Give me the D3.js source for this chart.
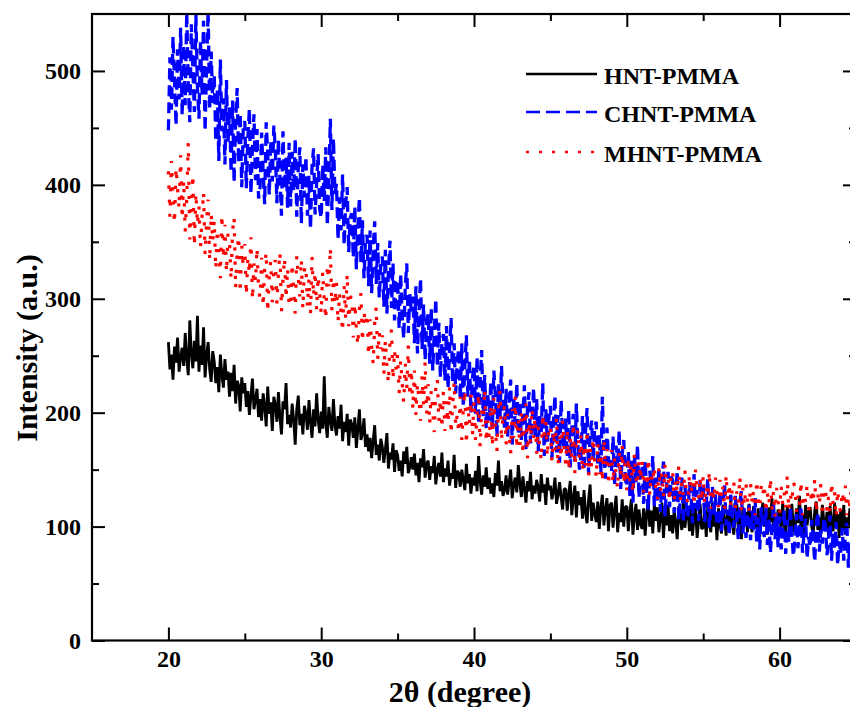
<!DOCTYPE html>
<html>
<head>
<meta charset="utf-8">
<script src="https://cdn.jsdelivr.net/npm/d3@7"></script>
<style>
  html, body { margin: 0; padding: 0; background: #fff; overflow: hidden; }
  svg { display: block; }
  text { font-family: "Liberation Serif", "Times New Roman", serif; font-weight: bold; fill: #000; }
</style>
</head>
<body>
<svg id="chart" width="850" height="707"></svg>
<script>
// XRD patterns, intensity sampled every 0.1 degree from 20 to 65 (2θ)
const twoThetaStart = 20, twoThetaStep = 0.1;

const seriesNames = ["HNT-PMMA", "CHNT-PMMA", "MHNT-PMMA"];

const hntPmma = [
262,238,251,229,258,244,266,236,249,257,
241,270,247,233,281,252,239,263,245,285,
236,259,242,275,231,250,262,238,227,254,
245,226,240,218,251,233,222,247,229,236,
214,235,219,242,208,228,224,201,231,217,
226,205,219,198,215,230,203,211,221,196,
212,193,217,206,188,223,199,209,184,214,
207,192,218,196,181,210,203,226,190,198,
187,208,194,172,203,215,189,199,181,206,
199,185,211,192,178,203,188,217,194,182,
201,186,232,190,178,205,193,184,212,189,
180,197,186,207,175,192,183,199,171,194,
190,178,196,169,186,203,176,182,195,170,
181,166,178,160,175,189,163,172,158,177,
170,156,168,182,151,165,159,173,148,167,
163,149,158,144,166,155,170,147,152,161,
150,164,145,156,139,160,152,168,143,155,
158,141,153,147,162,137,150,156,144,165,
139,151,144,158,136,147,142,163,134,149,
147,135,150,141,132,155,138,146,129,143,
136,149,131,162,140,128,145,135,152,133,
143,129,138,126,147,136,158,131,140,127,
132,145,128,139,150,125,137,143,130,154,
138,126,144,133,121,140,131,148,124,136,
129,141,134,122,146,130,137,119,143,132,
136,124,131,143,120,128,139,126,115,133,
133,114,129,140,110,125,136,108,131,119,
126,107,132,112,103,124,137,105,121,111,
104,122,98,117,128,101,115,125,96,119,
121,99,114,127,95,112,104,124,100,117,
118,96,113,124,93,109,120,97,115,102,
98,116,92,111,123,100,114,94,119,105,
117,95,108,121,90,112,101,119,96,110,
94,114,103,89,118,107,97,122,99,111,
115,96,119,92,108,117,90,104,120,98,
99,113,91,118,103,95,121,100,112,88,
116,101,94,119,106,92,114,97,124,103,
93,110,120,96,108,89,117,102,113,95,
120,103,95,118,107,98,116,91,109,121,
100,114,93,117,104,125,96,110,92,115,
112,97,121,102,91,118,106,95,120,99,
95,116,103,127,98,110,92,119,101,113,
117,100,93,114,122,97,108,94,119,104,
98,113,92,118,103,96,121,99,111,90,
115,97,119,93,108,101,116,94,110,99,
104];

const chntPmma = [
448,512,466,530,491,452,519,475,538,461,
523,470,552,488,455,541,503,464,549,486,
458,527,479,544,447,505,553,466,517,472,
497,438,484,421,510,447,476,418,492,436,
468,411,474,402,457,485,419,463,398,451,
456,397,441,467,392,433,462,404,449,388,
398,446,412,383,455,428,391,439,403,452,
431,384,440,406,373,447,396,424,380,437,
381,429,395,441,372,414,433,366,418,389,
425,373,408,361,416,432,374,401,427,379,
371,418,386,433,364,406,458,378,441,392,
401,352,389,360,409,347,384,398,341,371,
375,336,381,326,363,389,332,369,318,352,
356,311,360,305,343,368,313,349,301,331,
337,293,343,287,324,351,292,331,281,315,
317,274,322,285,265,310,331,270,304,289,
302,261,311,252,288,318,256,295,246,279,
287,243,292,237,271,300,240,279,231,262,
269,228,276,221,255,283,226,261,217,246,
256,212,261,205,240,268,214,247,200,231,
241,199,249,190,228,255,197,233,186,218,
193,228,186,237,214,179,225,196,241,205,
186,221,178,209,229,172,213,190,226,181,
210,176,199,224,168,204,218,173,191,222,
178,212,166,197,183,226,162,203,174,195,
206,160,192,215,165,198,156,211,179,168,
195,161,203,152,186,199,157,208,172,150,
163,197,149,184,204,146,181,193,158,188,
192,153,181,147,214,166,142,187,160,151,
148,179,136,171,152,185,133,164,176,142,
135,166,127,158,121,163,139,172,125,154,
153,120,158,131,114,149,136,162,118,143,
121,152,113,139,157,109,136,148,117,144,
141,112,129,149,106,124,143,103,136,119,
108,139,127,103,146,116,132,105,141,122,
137,104,120,142,99,118,135,109,128,101,
104,131,96,119,137,101,115,92,128,110,
99,127,107,88,121,131,94,116,90,109,
119,88,114,97,125,86,108,80,117,98,
91,117,84,108,77,100,121,89,112,82,
109,80,96,115,76,106,86,118,92,74,
88,111,81,99,118,77,95,107,72,91,
82,106,90,69,101,113,78,97,85,108,
101,75,88,110,70,95,81,104,66,87,
76,99,70,92,105,64,86,74,97,62,
84];

const mhntPmma = [
412,372,421,388,366,415,397,379,426,370,
404,359,388,437,352,381,409,346,393,365,
381,345,372,394,339,368,387,333,375,350,
369,326,361,342,318,374,335,365,323,357,
351,317,359,372,309,343,355,305,347,328,
348,303,336,322,354,299,331,315,345,308,
301,336,293,327,341,288,320,333,297,329,
334,296,323,341,289,318,336,300,327,293,
295,331,306,287,338,319,302,335,291,325,
329,293,318,286,337,302,324,290,320,305,
287,324,299,282,330,311,345,289,318,295,
314,279,305,288,271,312,283,322,276,301,
302,266,296,274,259,291,305,262,289,277,
287,250,282,259,243,278,293,247,271,256,
268,233,264,241,226,261,273,229,255,238,
251,217,246,226,209,243,220,259,214,238,
203,237,198,226,211,193,232,207,245,199,
225,190,219,201,183,222,230,192,212,186,
219,184,210,191,223,181,206,227,188,198,
182,214,176,203,220,172,207,189,216,180,
211,176,198,217,170,203,188,221,174,193,
177,207,170,213,186,166,204,219,175,199,
206,172,199,181,164,203,178,214,168,195,
170,202,163,191,208,160,193,173,204,177,
196,164,188,170,158,199,175,192,161,186,
189,157,184,166,196,153,180,160,193,168,
155,186,149,177,161,191,147,174,185,158,
180,148,172,154,185,144,169,151,178,157,
143,174,146,165,139,177,152,168,136,161,
167,138,160,145,133,165,143,171,137,156,
132,161,140,155,129,164,143,136,158,141,
157,130,148,135,160,127,146,138,153,131,
124,152,131,147,126,155,134,144,122,149,
149,123,142,130,153,121,139,128,150,126,
120,146,129,141,118,150,131,125,144,122,
145,119,136,126,149,116,134,123,143,128,
117,141,125,135,114,146,122,138,119,133,
140,115,131,121,144,112,134,118,137,124,
113,138,120,132,110,141,123,116,136,128,
137,112,129,119,143,115,131,109,134,122,
111,136,120,130,117,145,114,128,121,139,
135,113,127,118,140,110,129,122,137,116,
115,133,121,142,112,128,119,138,109,131,
134,114,126,111,139,120,130,108,132,117,
113,131,119,136,110,127,118,135,112,129,
121];

const xTicks = [20, 30, 40, 50, 60];
const xMinorTicks = [25, 35, 45, 55];
const yTicks = [0, 100, 200, 300, 400, 500];
const yMinorTicks = [50, 150, 250, 350, 450];

const xLabel = "2θ (degree)";
const yLabel = "Intensity (a.u.)";

const seriesStyles = [
  { color: "#000000", width: 2.8, dash: null },
  { color: "#0000ff", width: 3.3, dash: "11,6" },
  { color: "#ff0000", width: 3.2, dash: "3.2,11" }
];

// ---- layout ----
const margin = { left: 92, top: 14, right: 856, bottom: 640.5 };
const svg = d3.select("#chart");

const x = d3.scaleLinear().domain([15, 65]).range([margin.left, margin.right]);
const y = d3.scaleLinear().domain([0, 550]).range([margin.bottom, margin.top]);

const toPoints = vals => vals.map((v, i) => [twoThetaStart + i * twoThetaStep, v]);
const allSeries = [hntPmma, chntPmma, mhntPmma].map(toPoints);

svg.append("defs").append("clipPath").attr("id", "plot-clip")
  .append("rect")
  .attr("x", margin.left).attr("y", margin.top)
  .attr("width", margin.right - margin.left)
  .attr("height", margin.bottom - margin.top);

const line = d3.line().x(d => x(d[0])).y(d => y(d[1]));

const plot = svg.append("g").attr("clip-path", "url(#plot-clip)");
allSeries.forEach((pts, i) => {
  const st = seriesStyles[i];
  plot.append("path")
    .datum(pts)
    .attr("d", line)
    .attr("fill", "none")
    .attr("stroke", st.color)
    .attr("stroke-width", st.width)
    .attr("stroke-linejoin", "bevel")
    .attr("stroke-dasharray", st.dash);
});

// ---- axes (ticks point inward on all four sides) ----
function styleAxis(g) {
  g.select(".domain").remove();
  g.selectAll(".tick line").attr("stroke", "#000").attr("stroke-width", 2);
  g.selectAll(".tick text")
    .attr("font-family", '"Liberation Serif", "Times New Roman", serif')
    .attr("font-weight", "bold").attr("font-size", 24).attr("fill", "#000");
}

svg.append("g").attr("transform", `translate(0,${margin.bottom})`)
  .call(d3.axisBottom(x).tickValues(xTicks).tickSizeInner(-13).tickSizeOuter(0).tickPadding(9).tickFormat(d3.format("d")))
  .call(styleAxis);
svg.append("g").attr("transform", `translate(0,${margin.bottom})`)
  .call(d3.axisBottom(x).tickValues(xMinorTicks).tickSizeInner(-7).tickSizeOuter(0).tickFormat(""))
  .call(styleAxis);
svg.append("g").attr("transform", `translate(0,${margin.top})`)
  .call(d3.axisTop(x).tickValues(xTicks).tickSizeInner(-13).tickSizeOuter(0).tickFormat(""))
  .call(styleAxis);
svg.append("g").attr("transform", `translate(0,${margin.top})`)
  .call(d3.axisTop(x).tickValues(xMinorTicks).tickSizeInner(-7).tickSizeOuter(0).tickFormat(""))
  .call(styleAxis);

svg.append("g").attr("transform", `translate(${margin.left},0)`)
  .call(d3.axisLeft(y).tickValues(yTicks).tickSizeInner(-13).tickSizeOuter(0).tickPadding(11).tickFormat(d3.format("d")))
  .call(styleAxis);
svg.append("g").attr("transform", `translate(${margin.left},0)`)
  .call(d3.axisLeft(y).tickValues(yMinorTicks).tickSizeInner(-7).tickSizeOuter(0).tickFormat(""))
  .call(styleAxis);
svg.append("g").attr("transform", `translate(${margin.right},0)`)
  .call(d3.axisRight(y).tickValues(yTicks).tickSizeInner(-13).tickSizeOuter(0).tickFormat(""))
  .call(styleAxis);
svg.append("g").attr("transform", `translate(${margin.right},0)`)
  .call(d3.axisRight(y).tickValues(yMinorTicks).tickSizeInner(-7).tickSizeOuter(0).tickFormat(""))
  .call(styleAxis);

// frame
svg.append("rect")
  .attr("x", margin.left).attr("y", margin.top)
  .attr("width", margin.right - margin.left)
  .attr("height", margin.bottom - margin.top)
  .attr("fill", "none").attr("stroke", "#000").attr("stroke-width", 2.2);

// axis titles
svg.append("text")
  .attr("x", 460).attr("y", 702)
  .attr("text-anchor", "middle").attr("font-size", 30)
  .text(xLabel);
svg.append("text")
  .attr("transform", "translate(37,348) rotate(-90)")
  .attr("text-anchor", "middle").attr("font-size", 30)
  .text(yLabel);

// legend
const legend = svg.append("g");
seriesNames.forEach((name, i) => {
  const st = seriesStyles[i];
  const ly = [74, 112, 152][i];
  legend.append("line")
    .attr("x1", 526).attr("x2", 597).attr("y1", ly).attr("y2", ly)
    .attr("stroke", st.color).attr("stroke-width", i === 0 ? 2.4 : 2.6)
    .attr("stroke-dasharray", i === 1 ? "14,6" : (i === 2 ? "3,10" : null));
  legend.append("text")
    .attr("x", 604).attr("y", ly + 10)
    .attr("font-size", 24)
    .text(name);
});
</script>
</body>
</html>
